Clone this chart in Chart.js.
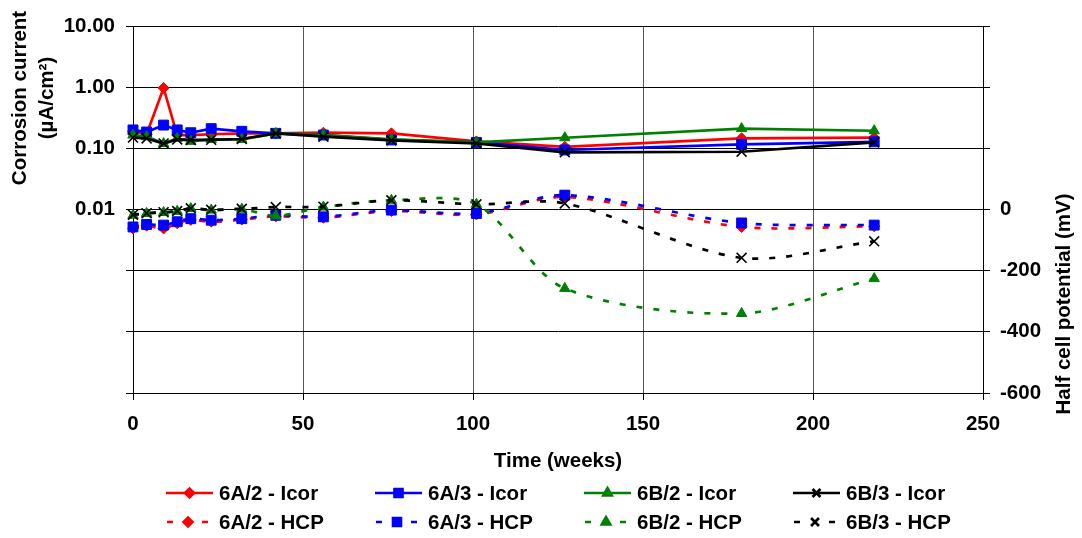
<!DOCTYPE html>
<html>
<head>
<meta charset="utf-8">
<script src="https://cdn.jsdelivr.net/npm/chart.js@4/dist/chart.umd.min.js"></script>
<style>
  html, body { margin: 0; padding: 0; background: #fff; }
</style>
</head>
<body>
<canvas id="chart" width="1082" height="538"></canvas>
<script>
// sampling times (weeks)
const weeks = [0, 4, 9, 13, 17, 23, 32, 42, 56, 76, 101, 127, 179, 218];

// corrosion current, uA/cm2 (left, log axis)
const icor6A2 = [0.19, 0.17, 0.97, 0.165, 0.165, 0.17, 0.175, 0.175, 0.18, 0.176, 0.13, 0.106, 0.146, 0.15];
const icor6A3 = [0.2, 0.185, 0.24, 0.2, 0.18, 0.21, 0.19, 0.176, 0.165, 0.137, 0.125, 0.094, 0.116, 0.128];
const icor6B2 = [0.165, 0.155, 0.12, 0.145, 0.13, 0.14, 0.14, 0.175, 0.165, 0.14, 0.125, 0.149, 0.21, 0.194];
const icor6B3 = [0.15, 0.145, 0.12, 0.14, 0.137, 0.138, 0.142, 0.175, 0.155, 0.135, 0.12, 0.086, 0.088, 0.125];

// half cell potential, mV (right axis)
const hcp6A2 = [-62, -53, -62, -45, -34, -40, -33, -22, -27, -5, -16, 41, -57, -55];
const hcp6A3 = [-57, -49, -51, -40, -30, -35, -30, -19, -24, -2, -13, 47, -44, -51];
const hcp6B2 = [-19, -13, -10, -6, 3, -2, 1, -21, 8, 30, 17, -258, -340, -226];
const hcp6B3 = [-17, -12, -9, -5, 4, -1, 2, 8, 9, 30, 17, 20, -158, -104];

const leftTicks = [0.00001, 0.0001, 0.001, 0.01, 0.1, 1, 10];

const FONT_FAMILY = "'Liberation Sans', Arial, sans-serif";
const FONT_SIZE = 20.5;
const FONT = `bold ${FONT_SIZE}px ${FONT_FAMILY}`;

const series = [
  { label: '6A/2 - Icor', data: icor6A2, color: '#ff0000', style: 'rectRot', r: 5.5, axis: 'y', dashed: false },
  { label: '6A/3 - Icor', data: icor6A3, color: '#0000ff', style: 'rect', r: 7, axis: 'y', dashed: false },
  { label: '6B/2 - Icor', data: icor6B2, color: '#008000', style: 'triangle', r: 6, axis: 'y', dashed: false },
  { label: '6B/3 - Icor', data: icor6B3, color: '#000000', style: 'crossRot', r: 7, axis: 'y', dashed: false },
  { label: '6A/2 - HCP', data: hcp6A2, color: '#ff0000', style: 'rectRot', r: 5.5, axis: 'y2', dashed: true },
  { label: '6A/3 - HCP', data: hcp6A3, color: '#0000ff', style: 'rect', r: 7, axis: 'y2', dashed: true },
  { label: '6B/2 - HCP', data: hcp6B2, color: '#008000', style: 'triangle', r: 6, axis: 'y2', dashed: true },
  { label: '6B/3 - HCP', data: hcp6B3, color: '#000000', style: 'crossRot', r: 7, axis: 'y2', dashed: true }
];

const datasets = series.map((s, i) => ({
  label: s.label,
  data: weeks.map((w, k) => ({ x: w, y: s.data[k] })),
  yAxisID: s.axis,
  borderColor: s.color,
  backgroundColor: s.color,
  borderWidth: 2.7,
  borderDash: s.dashed ? [6, 11] : [],
  tension: s.dashed ? 0.3 : 0,
  pointStyle: s.style,
  pointRadius: s.r,
  pointBorderWidth: s.style === 'crossRot' ? 1.6 : 1,
  pointBackgroundColor: s.color,
  pointBorderColor: s.color,
  clip: false,
  order: series.length - i
}));

// axis titles drawn by hand so they can sit off-centre
const axisTitles = {
  id: 'axisTitles',
  afterDraw(chart) {
    const ctx = chart.ctx;
    const area = chart.chartArea;
    ctx.save();
    ctx.font = FONT;
    ctx.fillStyle = '#000';
    ctx.textAlign = 'center';
    ctx.textBaseline = 'middle';
    ctx.fillText('Time (weeks)', (area.left + area.right) / 2, 461);

    const vText = (txt, x, y) => {
      ctx.save();
      ctx.translate(x, y);
      ctx.rotate(-Math.PI / 2);
      ctx.fillText(txt, 0, 0);
      ctx.restore();
    };
    vText('Corrosion current', 20, 98);
    vText('(\u00b5A/cm\u00b2)', 47, 98);
    vText('Half cell potential (mV)', 1064, 304);
    ctx.restore();
  }
};

// legend laid out as a 4 x 2 grid
const gridLegend = {
  id: 'gridLegend',
  afterDraw(chart) {
    const ctx = chart.ctx;
    ctx.save();
    ctx.font = FONT;
    ctx.textBaseline = 'middle';
    ctx.textAlign = 'left';
    chart.data.datasets.forEach((ds, i) => {
      const col = i % 4;
      const row = Math.floor(i / 4);
      const x0 = 166 + col * 209;
      const y = 493 + row * 29;
      const len = 47;
      ctx.strokeStyle = ds.borderColor;
      ctx.fillStyle = ds.borderColor;
      ctx.lineWidth = ds.borderWidth;
      ctx.setLineDash([]);
      ctx.beginPath();
      if (ds.borderDash.length) {
        ctx.moveTo(x0 + 1, y); ctx.lineTo(x0 + 7, y);
        ctx.moveTo(x0 + 36, y); ctx.lineTo(x0 + 42, y);
      } else {
        ctx.moveTo(x0, y); ctx.lineTo(x0 + len, y);
      }
      ctx.stroke();
      Chart.helpers.drawPoint(ctx, {
        pointStyle: ds.pointStyle,
        radius: ds.pointRadius * 0.8,
        rotation: 0,
        borderWidth: ds.pointBorderWidth
      }, ds.borderDash.length ? x0 + 22 : x0 + len / 2, y);
      ctx.fillStyle = '#000';
      ctx.fillText(ds.label, x0 + 53, y + 1);
    });
    ctx.restore();
  }
};

Chart.defaults.font.family = FONT_FAMILY;
Chart.defaults.font.size = FONT_SIZE;
Chart.defaults.font.weight = 'bold';
Chart.defaults.color = '#000';

new Chart(document.getElementById('chart'), {
  type: 'line',
  data: { datasets },
  plugins: [axisTitles, gridLegend],
  options: {
    responsive: false,
    animation: false,
    layout: { padding: { top: 26, left: 0, right: 0, bottom: 0 } },
    plugins: { legend: { display: false }, tooltip: { enabled: false } },
    scales: {
      x: {
        type: 'linear',
        min: 0,
        max: 250,
        ticks: { stepSize: 50, padding: 12, maxRotation: 0 },
        grid: { color: '#555', tickColor: '#000', tickLength: 7, lineWidth: 1 },
        border: { color: '#000', width: 1 },
        afterFit(scale) { scale.height = 145; }
      },
      y: {
        type: 'logarithmic',
        position: 'left',
        min: 0.00001,
        max: 10,
        afterBuildTicks(scale) { scale.ticks = leftTicks.map(v => ({ value: v })); },
        ticks: {
          padding: 11,
          autoSkip: false,
          callback: v => (v >= 0.01 ? v.toFixed(2) : '')
        },
        grid: { color: '#000', tickLength: 7, lineWidth: 1 },
        border: { color: '#000', width: 1 },
        afterFit(scale) { scale.width = 133; }
      },
      y2: {
        type: 'linear',
        position: 'right',
        min: -600,
        max: 600,
        ticks: {
          stepSize: 200,
          padding: 10,
          autoSkip: false,
          callback: v => (v <= 0 ? String(v) : '')
        },
        grid: { drawOnChartArea: false, color: '#000', tickLength: 7 },
        border: { color: '#000', width: 1 },
        afterFit(scale) { scale.width = 99; }
      }
    }
  }
});
</script>
</body>
</html>
